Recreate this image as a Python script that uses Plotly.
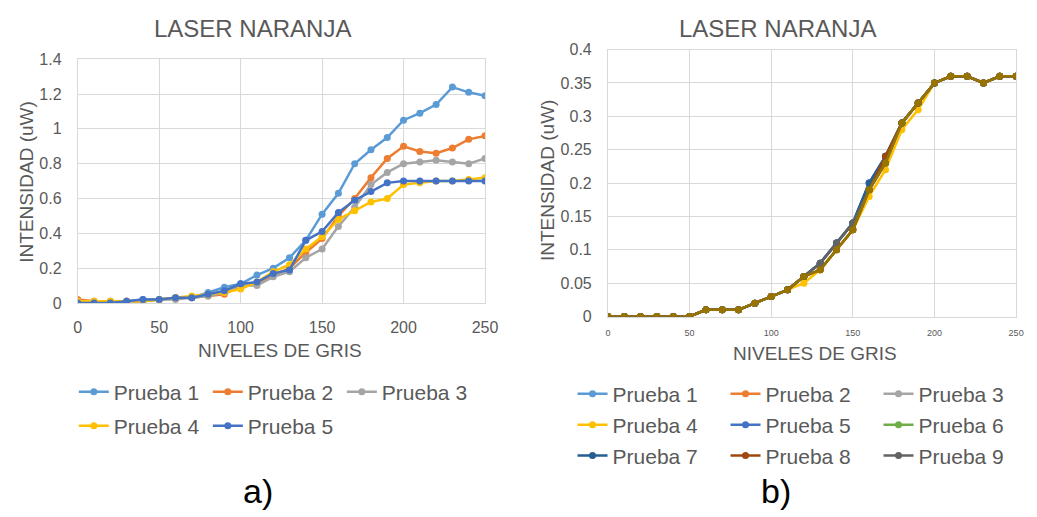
import plotly.graph_objects as go

W, H = 1037, 517

# Gray levels sent to the laser (shared by both panels)
niveles = [0, 10, 20, 30, 40, 50, 60, 70, 80, 90, 100, 110, 120,
           130, 140, 150, 160, 170, 180, 190, 200, 210, 220, 230, 240, 250]

# Panel a) measured intensity (uW)
a_prueba1 = [0.00, 0.00, 0.00, 0.01, 0.02, 0.02, 0.03, 0.03, 0.06, 0.09, 0.11, 0.16, 0.20,
             0.26, 0.36, 0.51, 0.63, 0.80, 0.88, 0.95, 1.05, 1.09, 1.14, 1.24, 1.21, 1.19]
a_prueba2 = [0.02, 0.01, 0.01, 0.01, 0.01, 0.02, 0.03, 0.03, 0.04, 0.05, 0.10, 0.11, 0.16,
             0.20, 0.29, 0.37, 0.50, 0.60, 0.72, 0.83, 0.90, 0.87, 0.86, 0.89, 0.94, 0.96]
a_prueba3 = [0.01, 0.01, 0.01, 0.01, 0.01, 0.02, 0.02, 0.03, 0.04, 0.06, 0.10, 0.10, 0.15,
             0.18, 0.26, 0.31, 0.44, 0.55, 0.68, 0.75, 0.80, 0.81, 0.82, 0.81, 0.80, 0.83]
a_prueba4 = [0.01, 0.01, 0.01, 0.01, 0.01, 0.02, 0.03, 0.04, 0.05, 0.06, 0.08, 0.12, 0.18,
             0.22, 0.31, 0.38, 0.48, 0.53, 0.58, 0.60, 0.68, 0.69, 0.70, 0.70, 0.71, 0.72]
a_prueba5 = [0.00, 0.00, 0.00, 0.01, 0.02, 0.02, 0.03, 0.03, 0.05, 0.07, 0.11, 0.12, 0.17,
             0.19, 0.36, 0.41, 0.52, 0.59, 0.64, 0.69, 0.70, 0.70, 0.70, 0.70, 0.70, 0.70]

# Panel b) measured intensity (uW)
b_prueba1 = [0, 0, 0, 0, 0, 0, 0.01, 0.01, 0.01, 0.02, 0.03, 0.04, 0.06,
             0.08, 0.11, 0.14, 0.20, 0.24, 0.29, 0.32, 0.35, 0.36, 0.36, 0.35, 0.36, 0.36]
b_prueba2 = [0, 0, 0, 0, 0, 0, 0.01, 0.01, 0.01, 0.02, 0.03, 0.04, 0.06,
             0.07, 0.10, 0.13, 0.19, 0.23, 0.29, 0.32, 0.35, 0.36, 0.36, 0.35, 0.36, 0.36]
b_prueba3 = [0, 0, 0, 0, 0, 0, 0.01, 0.01, 0.01, 0.02, 0.03, 0.04, 0.06,
             0.08, 0.11, 0.14, 0.19, 0.24, 0.29, 0.32, 0.35, 0.36, 0.36, 0.35, 0.36, 0.36]
b_prueba4 = [0, 0, 0, 0, 0, 0, 0.01, 0.01, 0.01, 0.02, 0.03, 0.04, 0.05,
             0.07, 0.10, 0.13, 0.18, 0.22, 0.28, 0.31, 0.35, 0.36, 0.36, 0.35, 0.36, 0.36]
b_prueba5 = [0, 0, 0, 0, 0, 0, 0.01, 0.01, 0.01, 0.02, 0.03, 0.04, 0.06,
             0.08, 0.11, 0.14, 0.20, 0.24, 0.29, 0.32, 0.35, 0.36, 0.36, 0.35, 0.36, 0.36]
b_prueba6 = [0, 0, 0, 0, 0, 0, 0.01, 0.01, 0.01, 0.02, 0.03, 0.04, 0.06,
             0.07, 0.10, 0.13, 0.19, 0.23, 0.29, 0.32, 0.35, 0.36, 0.36, 0.35, 0.36, 0.36]
b_prueba7 = [0, 0, 0, 0, 0, 0, 0.01, 0.01, 0.01, 0.02, 0.03, 0.04, 0.06,
             0.08, 0.11, 0.14, 0.20, 0.24, 0.29, 0.32, 0.35, 0.36, 0.36, 0.35, 0.36, 0.36]
b_prueba8 = [0, 0, 0, 0, 0, 0, 0.01, 0.01, 0.01, 0.02, 0.03, 0.04, 0.06,
             0.07, 0.10, 0.13, 0.19, 0.24, 0.29, 0.32, 0.35, 0.36, 0.36, 0.35, 0.36, 0.36]
b_prueba9 = [0, 0, 0, 0, 0, 0, 0.01, 0.01, 0.01, 0.02, 0.03, 0.04, 0.06,
             0.08, 0.11, 0.14, 0.19, 0.23, 0.29, 0.32, 0.35, 0.36, 0.36, 0.35, 0.36, 0.36]
b_prueba10 = [0, 0, 0, 0, 0, 0, 0.01, 0.01, 0.01, 0.02, 0.03, 0.04, 0.06,
              0.07, 0.10, 0.13, 0.19, 0.23, 0.29, 0.32, 0.35, 0.36, 0.36, 0.35, 0.36, 0.36]

a_names = ["Prueba 1", "Prueba 2", "Prueba 3", "Prueba 4", "Prueba 5"]
b_names = ["Prueba 1", "Prueba 2", "Prueba 3", "Prueba 4", "Prueba 5",
           "Prueba 6", "Prueba 7", "Prueba 8", "Prueba 9", "Prueba 10"]

colores = ["#5B9BD5", "#ED7D31", "#A5A5A5", "#FFC000", "#4472C4",
           "#70AD47", "#255E91", "#9E480E", "#636363", "#997300"]

TXT = "#595959"
GRID = "#D9D9D9"
FONT = "Liberation Sans, Arial, sans-serif"


def px_x(p):
    return p / W


def px_y(p):
    return 1 - p / H


fig = go.Figure()

a_series = [a_prueba1, a_prueba2, a_prueba3, a_prueba4, a_prueba5]
a_legend = ["legend", "legend", "legend", "legend2", "legend2"]
for i, (nombre, ys) in enumerate(zip(a_names, a_series)):
    fig.add_trace(go.Scatter(
        x=niveles, y=ys, name=nombre, mode="lines+markers",
        line=dict(color=colores[i], width=2.5),
        marker=dict(color=colores[i], size=7),
        xaxis="x", yaxis="y", legend=a_legend[i],
    ))

b_series = [b_prueba1, b_prueba2, b_prueba3, b_prueba4, b_prueba5,
            b_prueba6, b_prueba7, b_prueba8, b_prueba9, b_prueba10]
b_legend = ["legend3"] * 3 + ["legend4"] * 3 + ["legend5"] * 3 + ["legend5"]
for i, (nombre, ys) in enumerate(zip(b_names, b_series)):
    fig.add_trace(go.Scatter(
        x=niveles, y=ys, name=nombre, mode="lines+markers",
        line=dict(color=colores[i], width=2.5),
        marker=dict(color=colores[i], size=7),
        xaxis="x2", yaxis="y2", legend=b_legend[i],
        showlegend=i < 9,
    ))

axis_common = dict(showgrid=True, gridcolor=GRID, gridwidth=1, zeroline=False,
                   showline=True, linecolor=GRID, linewidth=1, mirror=True,
                   ticks="", fixedrange=True)


def leyenda(x, y, ew):
    return dict(orientation="h", x=px_x(x), y=px_y(y), xanchor="left", yanchor="top",
                entrywidth=ew, entrywidthmode="pixels", bgcolor="rgba(0,0,0,0)",
                borderwidth=0, font=dict(family=FONT, size=21, color=TXT),
                itemwidth=30, tracegroupgap=0)


fig.update_layout(
    width=W, height=H, margin=dict(l=0, r=0, t=0, b=0),
    paper_bgcolor="white", plot_bgcolor="white",
    font=dict(family=FONT, color=TXT),
    xaxis=dict(domain=[px_x(75), px_x(489)], range=[0, 250], dtick=50, tick0=0,
               anchor="y", tickfont=dict(size=16, color=TXT), ticklabelstandoff=10,
               **axis_common),
    yaxis=dict(domain=[px_y(305), px_y(53)], range=[0, 1.4], dtick=0.2, tick0=0,
               anchor="x", tickfont=dict(size=16, color=TXT), ticklabelstandoff=12,
               **axis_common),
    xaxis2=dict(domain=[px_x(614), px_x(1029)], range=[0, 250], dtick=50, tick0=0,
                anchor="y2", tickfont=dict(size=9, color=TXT), ticklabelstandoff=8,
                **axis_common),
    yaxis2=dict(domain=[px_y(319), px_y(43)], range=[0, 0.4], dtick=0.05, tick0=0,
                anchor="x2", tickfont=dict(size=16, color=TXT), ticklabelstandoff=12,
                **axis_common),
    legend=leyenda(71, 376, 89),
    legend2=leyenda(71, 411, 89),
    legend3=leyenda(578, 378, 108),
    legend4=leyenda(578, 410, 108),
    legend5=leyenda(578, 442, 108),
)

annots = [
    dict(text="LASER NARANJA", x=px_x(253), y=px_y(21), size=24, color=TXT, angle=0),
    dict(text="LASER NARANJA", x=px_x(786), y=px_y(21), size=24, color=TXT, angle=0),
    dict(text="INTENSIDAD (uW)", x=px_x(22), y=px_y(180), size=19, color=TXT, angle=-90),
    dict(text="INTENSIDAD (uW)", x=px_x(552), y=px_y(178), size=19, color=TXT, angle=-90),
    dict(text="NIVELES DE GRIS", x=px_x(281), y=px_y(354), size=19, color=TXT, angle=0),
    dict(text="NIVELES DE GRIS", x=px_x(825), y=px_y(357), size=19, color=TXT, angle=0),
    dict(text="a)", x=px_x(258), y=px_y(499), size=34, color="#000000", angle=0),
    dict(text="b)", x=px_x(785), y=px_y(499), size=34, color="#000000", angle=0),
]
for a in annots:
    fig.add_annotation(text=a["text"], x=a["x"], y=a["y"], xref="paper", yref="paper",
                       xanchor="center", yanchor="middle", showarrow=False,
                       textangle=a["angle"],
                       font=dict(family=FONT, size=a["size"], color=a["color"]))

fig.write_html("out.html")
